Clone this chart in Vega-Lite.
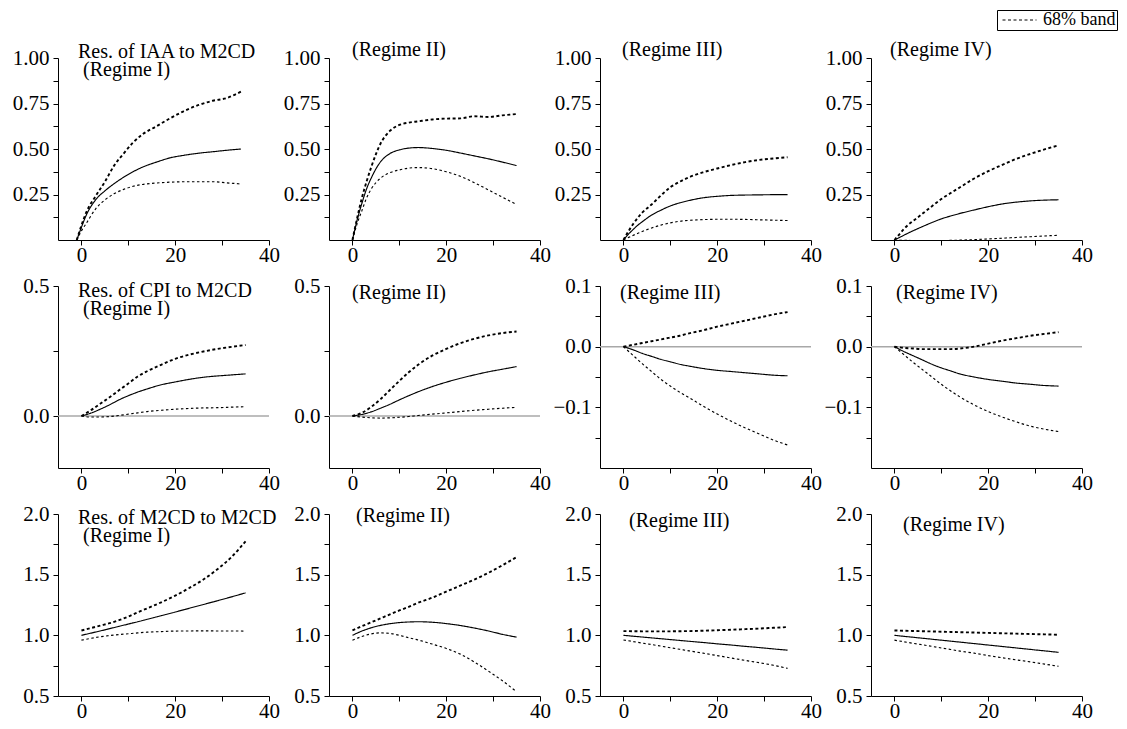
{
"$schema":"https://vega.github.io/schema/vega-lite/v6.json",
"background":"white",
"padding":{"left":12,"top":9,"right":5,"bottom":2},
"datasets":{"irf":[
{"p":1,"t":-1,"m":0,"u":0,"l":0},{"p":1,"t":0,"m":0.07,"u":0.08,"l":0.05},{"p":1,"t":1,"m":0.135,"u":0.15,"l":0.09},{"p":1,"t":3,"m":0.22,"u":0.24,"l":0.17},{"p":1,"t":5,"m":0.27,"u":0.32,"l":0.22},{"p":1,"t":7,"m":0.31,"u":0.41,"l":0.255},{"p":1,"t":9,"m":0.345,"u":0.475,"l":0.278},{"p":1,"t":11,"m":0.375,"u":0.535,"l":0.295},{"p":1,"t":13,"m":0.4,"u":0.58,"l":0.305},{"p":1,"t":16,"m":0.428,"u":0.625,"l":0.313},{"p":1,"t":19,"m":0.452,"u":0.67,"l":0.318},{"p":1,"t":22,"m":0.466,"u":0.71,"l":0.32},{"p":1,"t":25,"m":0.477,"u":0.742,"l":0.32},{"p":1,"t":28,"m":0.485,"u":0.765,"l":0.32},{"p":1,"t":31,"m":0.493,"u":0.78,"l":0.314},{"p":1,"t":34,"m":0.5,"u":0.815,"l":0.308},
{"p":2,"t":0,"m":0,"u":0,"l":0},{"p":2,"t":1,"m":0.11,"u":0.12,"l":0.09},{"p":2,"t":2,"m":0.2,"u":0.23,"l":0.16},{"p":2,"t":3,"m":0.28,"u":0.32,"l":0.23},{"p":2,"t":4,"m":0.34,"u":0.4,"l":0.28},{"p":2,"t":6,"m":0.43,"u":0.53,"l":0.34},{"p":2,"t":8,"m":0.475,"u":0.6,"l":0.37},{"p":2,"t":10,"m":0.495,"u":0.632,"l":0.385},{"p":2,"t":12,"m":0.505,"u":0.645,"l":0.395},{"p":2,"t":14,"m":0.508,"u":0.652,"l":0.398},{"p":2,"t":17,"m":0.503,"u":0.662,"l":0.392},{"p":2,"t":20,"m":0.493,"u":0.667,"l":0.375},{"p":2,"t":23,"m":0.478,"u":0.668,"l":0.35},{"p":2,"t":26,"m":0.462,"u":0.68,"l":0.315},{"p":2,"t":29,"m":0.446,"u":0.676,"l":0.275},{"p":2,"t":32,"m":0.428,"u":0.685,"l":0.235},{"p":2,"t":35,"m":0.409,"u":0.692,"l":0.195},
{"p":3,"t":0,"m":0,"u":0,"l":0},{"p":3,"t":1,"m":0.03,"u":0.045,"l":0.013},{"p":3,"t":2,"m":0.056,"u":0.085,"l":0.025},{"p":3,"t":3,"m":0.08,"u":0.12,"l":0.036},{"p":3,"t":4,"m":0.1,"u":0.15,"l":0.047},{"p":3,"t":6,"m":0.137,"u":0.195,"l":0.066},{"p":3,"t":8,"m":0.164,"u":0.245,"l":0.082},{"p":3,"t":10,"m":0.187,"u":0.29,"l":0.094},{"p":3,"t":12,"m":0.204,"u":0.32,"l":0.103},{"p":3,"t":14,"m":0.217,"u":0.345,"l":0.108},{"p":3,"t":17,"m":0.232,"u":0.372,"l":0.112},{"p":3,"t":20,"m":0.24,"u":0.393,"l":0.114},{"p":3,"t":23,"m":0.245,"u":0.412,"l":0.114},{"p":3,"t":26,"m":0.247,"u":0.428,"l":0.113},{"p":3,"t":29,"m":0.248,"u":0.44,"l":0.111},{"p":3,"t":32,"m":0.249,"u":0.448,"l":0.109},{"p":3,"t":35,"m":0.249,"u":0.455,"l":0.107},
{"p":4,"t":0,"m":0,"u":0,"l":0},{"p":4,"t":1,"m":0.013,"u":0.03,"l":-0.001},{"p":4,"t":2,"m":0.026,"u":0.06,"l":-0.002},{"p":4,"t":3,"m":0.039,"u":0.085,"l":-0.002},{"p":4,"t":4,"m":0.051,"u":0.105,"l":-0.003},{"p":4,"t":6,"m":0.074,"u":0.145,"l":-0.003},{"p":4,"t":8,"m":0.096,"u":0.186,"l":-0.003},{"p":4,"t":10,"m":0.116,"u":0.225,"l":-0.003},{"p":4,"t":12,"m":0.132,"u":0.258,"l":-0.002},{"p":4,"t":14,"m":0.146,"u":0.29,"l":-0.001},{"p":4,"t":17,"m":0.165,"u":0.338,"l":0.002},{"p":4,"t":20,"m":0.183,"u":0.378,"l":0.006},{"p":4,"t":23,"m":0.198,"u":0.413,"l":0.01},{"p":4,"t":26,"m":0.208,"u":0.446,"l":0.014},{"p":4,"t":29,"m":0.215,"u":0.473,"l":0.018},{"p":4,"t":32,"m":0.219,"u":0.498,"l":0.022},{"p":4,"t":35,"m":0.221,"u":0.52,"l":0.026},
{"p":5,"t":0,"m":0,"u":0,"l":0},{"p":5,"t":2,"m":0.011,"u":0.022,"l":-0.004},{"p":5,"t":4,"m":0.026,"u":0.047,"l":-0.004},{"p":5,"t":6,"m":0.043,"u":0.072,"l":-0.002},{"p":5,"t":8,"m":0.062,"u":0.099,"l":0.002},{"p":5,"t":10,"m":0.078,"u":0.125,"l":0.007},{"p":5,"t":12,"m":0.092,"u":0.152,"l":0.012},{"p":5,"t":14,"m":0.104,"u":0.172,"l":0.017},{"p":5,"t":17,"m":0.12,"u":0.197,"l":0.022},{"p":5,"t":20,"m":0.131,"u":0.22,"l":0.026},{"p":5,"t":23,"m":0.141,"u":0.236,"l":0.029},{"p":5,"t":26,"m":0.149,"u":0.248,"l":0.031},{"p":5,"t":29,"m":0.154,"u":0.258,"l":0.032},{"p":5,"t":32,"m":0.158,"u":0.266,"l":0.034},{"p":5,"t":35,"m":0.162,"u":0.273,"l":0.036},
{"p":6,"t":0,"m":0,"u":0,"l":0},{"p":6,"t":2,"m":0.006,"u":0.012,"l":-0.004},{"p":6,"t":4,"m":0.016,"u":0.035,"l":-0.007},{"p":6,"t":6,"m":0.03,"u":0.065,"l":-0.008},{"p":6,"t":8,"m":0.045,"u":0.1,"l":-0.007},{"p":6,"t":10,"m":0.062,"u":0.135,"l":-0.005},{"p":6,"t":12,"m":0.078,"u":0.168,"l":-0.002},{"p":6,"t":14,"m":0.093,"u":0.197,"l":0.002},{"p":6,"t":17,"m":0.113,"u":0.232,"l":0.007},{"p":6,"t":20,"m":0.13,"u":0.258,"l":0.012},{"p":6,"t":23,"m":0.145,"u":0.28,"l":0.017},{"p":6,"t":26,"m":0.158,"u":0.297,"l":0.022},{"p":6,"t":29,"m":0.17,"u":0.31,"l":0.026},{"p":6,"t":32,"m":0.18,"u":0.319,"l":0.03},{"p":6,"t":35,"m":0.19,"u":0.325,"l":0.033},
{"p":7,"t":0,"m":0,"u":0,"l":0},{"p":7,"t":2,"m":-0.005,"u":0.003,"l":-0.014},{"p":7,"t":4,"m":-0.011,"u":0.006,"l":-0.028},{"p":7,"t":6,"m":-0.016,"u":0.009,"l":-0.041},{"p":7,"t":8,"m":-0.021,"u":0.012,"l":-0.054},{"p":7,"t":10,"m":-0.025,"u":0.015,"l":-0.065},{"p":7,"t":12,"m":-0.029,"u":0.018,"l":-0.075},{"p":7,"t":14,"m":-0.032,"u":0.022,"l":-0.084},{"p":7,"t":17,"m":-0.036,"u":0.027,"l":-0.098},{"p":7,"t":20,"m":-0.039,"u":0.033,"l":-0.111},{"p":7,"t":23,"m":-0.041,"u":0.038,"l":-0.123},{"p":7,"t":26,"m":-0.043,"u":0.043,"l":-0.134},{"p":7,"t":29,"m":-0.045,"u":0.048,"l":-0.144},{"p":7,"t":32,"m":-0.047,"u":0.053,"l":-0.154},{"p":7,"t":35,"m":-0.048,"u":0.057,"l":-0.162},
{"p":8,"t":0,"m":0,"u":0,"l":0},{"p":8,"t":2,"m":-0.008,"u":-0.002,"l":-0.013},{"p":8,"t":4,"m":-0.015,"u":-0.003,"l":-0.026},{"p":8,"t":6,"m":-0.022,"u":-0.004,"l":-0.038},{"p":8,"t":8,"m":-0.029,"u":-0.004,"l":-0.05},{"p":8,"t":10,"m":-0.035,"u":-0.004,"l":-0.062},{"p":8,"t":12,"m":-0.04,"u":-0.004,"l":-0.073},{"p":8,"t":14,"m":-0.045,"u":-0.003,"l":-0.083},{"p":8,"t":17,"m":-0.05,"u":0,"l":-0.096},{"p":8,"t":20,"m":-0.054,"u":0.005,"l":-0.107},{"p":8,"t":23,"m":-0.057,"u":0.01,"l":-0.116},{"p":8,"t":26,"m":-0.06,"u":0.014,"l":-0.124},{"p":8,"t":29,"m":-0.062,"u":0.018,"l":-0.131},{"p":8,"t":32,"m":-0.064,"u":0.021,"l":-0.136},{"p":8,"t":35,"m":-0.065,"u":0.024,"l":-0.14},
{"p":9,"t":0,"m":1.0,"u":1.04,"l":0.96},{"p":9,"t":2,"m":1.018,"u":1.06,"l":0.975},{"p":9,"t":4,"m":1.036,"u":1.08,"l":0.988},{"p":9,"t":6,"m":1.055,"u":1.1,"l":0.998},{"p":9,"t":8,"m":1.074,"u":1.125,"l":1.006},{"p":9,"t":10,"m":1.093,"u":1.155,"l":1.013},{"p":9,"t":12,"m":1.112,"u":1.19,"l":1.02},{"p":9,"t":14,"m":1.132,"u":1.222,"l":1.026},{"p":9,"t":17,"m":1.162,"u":1.272,"l":1.031},{"p":9,"t":20,"m":1.192,"u":1.327,"l":1.035},{"p":9,"t":23,"m":1.223,"u":1.39,"l":1.036},{"p":9,"t":26,"m":1.254,"u":1.46,"l":1.037},{"p":9,"t":29,"m":1.285,"u":1.545,"l":1.036},{"p":9,"t":32,"m":1.317,"u":1.645,"l":1.036},{"p":9,"t":35,"m":1.35,"u":1.775,"l":1.035},
{"p":10,"t":0,"m":1.0,"u":1.04,"l":0.96},{"p":10,"t":2,"m":1.035,"u":1.075,"l":0.99},{"p":10,"t":4,"m":1.062,"u":1.107,"l":1.012},{"p":10,"t":6,"m":1.082,"u":1.14,"l":1.02},{"p":10,"t":8,"m":1.096,"u":1.173,"l":1.016},{"p":10,"t":10,"m":1.105,"u":1.205,"l":1.0},{"p":10,"t":12,"m":1.11,"u":1.235,"l":0.98},{"p":10,"t":14,"m":1.112,"u":1.268,"l":0.962},{"p":10,"t":17,"m":1.108,"u":1.31,"l":0.928},{"p":10,"t":20,"m":1.097,"u":1.36,"l":0.892},{"p":10,"t":23,"m":1.081,"u":1.41,"l":0.845},{"p":10,"t":26,"m":1.06,"u":1.46,"l":0.78},{"p":10,"t":29,"m":1.036,"u":1.515,"l":0.705},{"p":10,"t":32,"m":1.008,"u":1.578,"l":0.625},{"p":10,"t":35,"m":0.985,"u":1.645,"l":0.535},
{"p":11,"t":0,"m":1.0,"u":1.035,"l":0.962},{"p":11,"t":2,"m":0.993,"u":1.034,"l":0.949},{"p":11,"t":4,"m":0.986,"u":1.033,"l":0.936},{"p":11,"t":6,"m":0.979,"u":1.033,"l":0.924},{"p":11,"t":8,"m":0.972,"u":1.033,"l":0.911},{"p":11,"t":10,"m":0.965,"u":1.033,"l":0.898},{"p":11,"t":12,"m":0.958,"u":1.034,"l":0.885},{"p":11,"t":14,"m":0.951,"u":1.035,"l":0.872},{"p":11,"t":17,"m":0.941,"u":1.038,"l":0.853},{"p":11,"t":20,"m":0.93,"u":1.042,"l":0.833},{"p":11,"t":23,"m":0.92,"u":1.046,"l":0.813},{"p":11,"t":26,"m":0.909,"u":1.051,"l":0.793},{"p":11,"t":29,"m":0.899,"u":1.056,"l":0.774},{"p":11,"t":32,"m":0.888,"u":1.062,"l":0.753},{"p":11,"t":35,"m":0.878,"u":1.068,"l":0.728},
{"p":12,"t":0,"m":1.0,"u":1.04,"l":0.96},{"p":12,"t":2,"m":0.992,"u":1.038,"l":0.947},{"p":12,"t":4,"m":0.984,"u":1.036,"l":0.934},{"p":12,"t":6,"m":0.976,"u":1.034,"l":0.922},{"p":12,"t":8,"m":0.968,"u":1.032,"l":0.909},{"p":12,"t":10,"m":0.96,"u":1.03,"l":0.896},{"p":12,"t":12,"m":0.952,"u":1.028,"l":0.883},{"p":12,"t":14,"m":0.944,"u":1.026,"l":0.87},{"p":12,"t":17,"m":0.932,"u":1.023,"l":0.853},{"p":12,"t":20,"m":0.92,"u":1.02,"l":0.833},{"p":12,"t":23,"m":0.908,"u":1.017,"l":0.815},{"p":12,"t":26,"m":0.896,"u":1.014,"l":0.798},{"p":12,"t":29,"m":0.884,"u":1.011,"l":0.781},{"p":12,"t":32,"m":0.872,"u":1.008,"l":0.763},{"p":12,"t":35,"m":0.86,"u":1.005,"l":0.745}
]},
"data":{"name":"irf"},
"columns":4,
"spacing":{"row":46,"column":60},
"bounds":"flush",
"concat":[
{"width":211,"height":182,"title":{"text":["Res. of IAA to M2CD","\u200b\u00a0(Regime I)"],"dx":20,"offset":-33},"layer":[
 {"transform":[{"filter":"datum.p==1"},{"fold":["m","u","l"],"as":["s","v"]}],"mark":{"type":"line","color":"black","interpolate":"monotone"},"encoding":{
  "x":{"field":"t","type":"quantitative","scale":{"domain":[-5,40],"nice":false},"axis":{"title":null,"values":[0,10,20,30,40],"labelExpr":"datum.value % 20 === 0 ? datum.label : ''","encode":{"ticks":{"update":{"y2":{"signal":"datum.value % 20 === 0 ? -8 : -5"}}}}}},
  "y":{"field":"v","type":"quantitative","scale":{"domain":[0,1],"nice":false,"zero":false},"axis":{"title":null,"values":[0.125,0.25,0.375,0.5,0.625,0.75,0.875,1],"format":".2f","labelExpr":"abs(datum.value*4-round(datum.value*4))<1e-6 ? datum.label : ''","encode":{"ticks":{"update":{"x2":{"signal":"abs(datum.value*4-round(datum.value*4))<1e-6 ? 7 : 4.5"}}}}}},
  "strokeDash":{"field":"s","type":"nominal","scale":{"domain":["m","u","l"],"range":[[1,0],[3,2.5],[2.5,2.5]]},"legend":{"values":["u"],"labelExpr":"'68% band'","title":null}},
  "strokeWidth":{"condition":{"test":"datum.s==='u'","value":1.9},"value":1.15}}}
]},
{"width":211,"height":182,"title":{"text":"(Regime II)","dx":23,"offset":-13},"layer":[
 {"transform":[{"filter":"datum.p==2"},{"fold":["m","u","l"],"as":["s","v"]}],"mark":{"type":"line","color":"black","interpolate":"monotone"},"encoding":{
  "x":{"field":"t","type":"quantitative","scale":{"domain":[-5,40],"nice":false},"axis":{"title":null,"values":[0,10,20,30,40],"labelExpr":"datum.value % 20 === 0 ? datum.label : ''","encode":{"ticks":{"update":{"y2":{"signal":"datum.value % 20 === 0 ? -8 : -5"}}}}}},
  "y":{"field":"v","type":"quantitative","scale":{"domain":[0,1],"nice":false,"zero":false},"axis":{"title":null,"values":[0.125,0.25,0.375,0.5,0.625,0.75,0.875,1],"format":".2f","labelExpr":"abs(datum.value*4-round(datum.value*4))<1e-6 ? datum.label : ''","encode":{"ticks":{"update":{"x2":{"signal":"abs(datum.value*4-round(datum.value*4))<1e-6 ? 7 : 4.5"}}}}}},
  "strokeDash":{"field":"s","type":"nominal","scale":{"domain":["m","u","l"],"range":[[1,0],[3,2.5],[2.5,2.5]]},"legend":{"values":["u"],"labelExpr":"'68% band'","title":null}},
  "strokeWidth":{"condition":{"test":"datum.s==='u'","value":1.9},"value":1.15}}}
]},
{"width":211,"height":182,"title":{"text":"(Regime III)","dx":22,"offset":-13},"layer":[
 {"transform":[{"filter":"datum.p==3"},{"fold":["m","u","l"],"as":["s","v"]}],"mark":{"type":"line","color":"black","interpolate":"monotone"},"encoding":{
  "x":{"field":"t","type":"quantitative","scale":{"domain":[-5,40],"nice":false},"axis":{"title":null,"values":[0,10,20,30,40],"labelExpr":"datum.value % 20 === 0 ? datum.label : ''","encode":{"ticks":{"update":{"y2":{"signal":"datum.value % 20 === 0 ? -8 : -5"}}}}}},
  "y":{"field":"v","type":"quantitative","scale":{"domain":[0,1],"nice":false,"zero":false},"axis":{"title":null,"values":[0.125,0.25,0.375,0.5,0.625,0.75,0.875,1],"format":".2f","labelExpr":"abs(datum.value*4-round(datum.value*4))<1e-6 ? datum.label : ''","encode":{"ticks":{"update":{"x2":{"signal":"abs(datum.value*4-round(datum.value*4))<1e-6 ? 7 : 4.5"}}}}}},
  "strokeDash":{"field":"s","type":"nominal","scale":{"domain":["m","u","l"],"range":[[1,0],[3,2.5],[2.5,2.5]]},"legend":{"values":["u"],"labelExpr":"'68% band'","title":null}},
  "strokeWidth":{"condition":{"test":"datum.s==='u'","value":1.9},"value":1.15}}}
]},
{"width":211,"height":182,"title":{"text":"(Regime IV)","dx":19,"offset":-13},"layer":[
 {"transform":[{"filter":"datum.p==4"},{"fold":["m","u","l"],"as":["s","v"]}],"mark":{"type":"line","color":"black","interpolate":"monotone"},"encoding":{
  "x":{"field":"t","type":"quantitative","scale":{"domain":[-5,40],"nice":false},"axis":{"title":null,"values":[0,10,20,30,40],"labelExpr":"datum.value % 20 === 0 ? datum.label : ''","encode":{"ticks":{"update":{"y2":{"signal":"datum.value % 20 === 0 ? -8 : -5"}}}}}},
  "y":{"field":"v","type":"quantitative","scale":{"domain":[0,1],"nice":false,"zero":false},"axis":{"title":null,"values":[0.125,0.25,0.375,0.5,0.625,0.75,0.875,1],"format":".2f","labelExpr":"abs(datum.value*4-round(datum.value*4))<1e-6 ? datum.label : ''","encode":{"ticks":{"update":{"x2":{"signal":"abs(datum.value*4-round(datum.value*4))<1e-6 ? 7 : 4.5"}}}}}},
  "strokeDash":{"field":"s","type":"nominal","scale":{"domain":["m","u","l"],"range":[[1,0],[3,2.5],[2.5,2.5]]},"legend":{"values":["u"],"labelExpr":"'68% band'","title":null}},
  "strokeWidth":{"condition":{"test":"datum.s==='u'","value":1.9},"value":1.15}}}
]},
{"width":211,"height":182,"title":{"text":["Res. of CPI to M2CD","\u200b\u00a0(Regime I)"],"dx":20,"offset":-44},"layer":[
 {"data":{"values":[{}]},"mark":{"type":"rule","color":"#a8a8a8","strokeWidth":1.5},"encoding":{"y":{"datum":0,"type":"quantitative","scale":{"domain":[-0.2,0.5],"nice":false,"zero":false},"axis":{"title":null,"values":[0,0.25,0.5],"format":".1f","labelExpr":"abs(datum.value*2-round(datum.value*2))<1e-6 ? datum.label : ''","encode":{"ticks":{"update":{"x2":{"signal":"abs(datum.value*2-round(datum.value*2))<1e-6 ? 7 : 4.5"}}}}}}}},
 {"transform":[{"filter":"datum.p==5"},{"fold":["m","u","l"],"as":["s","v"]}],"mark":{"type":"line","color":"black","interpolate":"monotone"},"encoding":{
  "x":{"field":"t","type":"quantitative","scale":{"domain":[-5,40],"nice":false},"axis":{"title":null,"values":[0,10,20,30,40],"labelExpr":"datum.value % 20 === 0 ? datum.label : ''","encode":{"ticks":{"update":{"y2":{"signal":"datum.value % 20 === 0 ? -8 : -5"}}}}}},
  "y":{"field":"v","type":"quantitative","scale":{"domain":[-0.2,0.5],"nice":false,"zero":false},"axis":{"title":null,"values":[0,0.25,0.5],"format":".1f","labelExpr":"abs(datum.value*2-round(datum.value*2))<1e-6 ? datum.label : ''","encode":{"ticks":{"update":{"x2":{"signal":"abs(datum.value*2-round(datum.value*2))<1e-6 ? 7 : 4.5"}}}}}},
  "strokeDash":{"field":"s","type":"nominal","scale":{"domain":["m","u","l"],"range":[[1,0],[3,2.5],[2.5,2.5]]},"legend":{"values":["u"],"labelExpr":"'68% band'","title":null}},
  "strokeWidth":{"condition":{"test":"datum.s==='u'","value":1.9},"value":1.15}}}
]},
{"width":211,"height":182,"title":{"text":"(Regime II)","dx":23,"offset":-28},"layer":[
 {"data":{"values":[{}]},"mark":{"type":"rule","color":"#a8a8a8","strokeWidth":1.5},"encoding":{"y":{"datum":0,"type":"quantitative","scale":{"domain":[-0.2,0.5],"nice":false,"zero":false},"axis":{"title":null,"values":[0,0.25,0.5],"format":".1f","labelExpr":"abs(datum.value*2-round(datum.value*2))<1e-6 ? datum.label : ''","encode":{"ticks":{"update":{"x2":{"signal":"abs(datum.value*2-round(datum.value*2))<1e-6 ? 7 : 4.5"}}}}}}}},
 {"transform":[{"filter":"datum.p==6"},{"fold":["m","u","l"],"as":["s","v"]}],"mark":{"type":"line","color":"black","interpolate":"monotone"},"encoding":{
  "x":{"field":"t","type":"quantitative","scale":{"domain":[-5,40],"nice":false},"axis":{"title":null,"values":[0,10,20,30,40],"labelExpr":"datum.value % 20 === 0 ? datum.label : ''","encode":{"ticks":{"update":{"y2":{"signal":"datum.value % 20 === 0 ? -8 : -5"}}}}}},
  "y":{"field":"v","type":"quantitative","scale":{"domain":[-0.2,0.5],"nice":false,"zero":false},"axis":{"title":null,"values":[0,0.25,0.5],"format":".1f","labelExpr":"abs(datum.value*2-round(datum.value*2))<1e-6 ? datum.label : ''","encode":{"ticks":{"update":{"x2":{"signal":"abs(datum.value*2-round(datum.value*2))<1e-6 ? 7 : 4.5"}}}}}},
  "strokeDash":{"field":"s","type":"nominal","scale":{"domain":["m","u","l"],"range":[[1,0],[3,2.5],[2.5,2.5]]},"legend":{"values":["u"],"labelExpr":"'68% band'","title":null}},
  "strokeWidth":{"condition":{"test":"datum.s==='u'","value":1.9},"value":1.15}}}
]},
{"width":211,"height":182,"title":{"text":"(Regime III)","dx":20,"offset":-28},"layer":[
 {"data":{"values":[{}]},"mark":{"type":"rule","color":"#a8a8a8","strokeWidth":1.5},"encoding":{"y":{"datum":0,"type":"quantitative","scale":{"domain":[-0.2,0.1],"nice":false,"zero":false},"axis":{"title":null,"values":[-0.15,-0.1,-0.05,0,0.05,0.1],"format":".1f","labelExpr":"abs(datum.value*10-round(datum.value*10))<1e-6 ? datum.label : ''","encode":{"ticks":{"update":{"x2":{"signal":"abs(datum.value*10-round(datum.value*10))<1e-6 ? 7 : 4.5"}}}}}}}},
 {"transform":[{"filter":"datum.p==7"},{"fold":["m","u","l"],"as":["s","v"]}],"mark":{"type":"line","color":"black","interpolate":"monotone"},"encoding":{
  "x":{"field":"t","type":"quantitative","scale":{"domain":[-5,40],"nice":false},"axis":{"title":null,"values":[0,10,20,30,40],"labelExpr":"datum.value % 20 === 0 ? datum.label : ''","encode":{"ticks":{"update":{"y2":{"signal":"datum.value % 20 === 0 ? -8 : -5"}}}}}},
  "y":{"field":"v","type":"quantitative","scale":{"domain":[-0.2,0.1],"nice":false,"zero":false},"axis":{"title":null,"values":[-0.15,-0.1,-0.05,0,0.05,0.1],"format":".1f","labelExpr":"abs(datum.value*10-round(datum.value*10))<1e-6 ? datum.label : ''","encode":{"ticks":{"update":{"x2":{"signal":"abs(datum.value*10-round(datum.value*10))<1e-6 ? 7 : 4.5"}}}}}},
  "strokeDash":{"field":"s","type":"nominal","scale":{"domain":["m","u","l"],"range":[[1,0],[3,2.5],[2.5,2.5]]},"legend":{"values":["u"],"labelExpr":"'68% band'","title":null}},
  "strokeWidth":{"condition":{"test":"datum.s==='u'","value":1.9},"value":1.15}}}
]},
{"width":211,"height":182,"title":{"text":"(Regime IV)","dx":25,"offset":-28},"layer":[
 {"data":{"values":[{}]},"mark":{"type":"rule","color":"#a8a8a8","strokeWidth":1.5},"encoding":{"y":{"datum":0,"type":"quantitative","scale":{"domain":[-0.2,0.1],"nice":false,"zero":false},"axis":{"title":null,"values":[-0.15,-0.1,-0.05,0,0.05,0.1],"format":".1f","labelExpr":"abs(datum.value*10-round(datum.value*10))<1e-6 ? datum.label : ''","encode":{"ticks":{"update":{"x2":{"signal":"abs(datum.value*10-round(datum.value*10))<1e-6 ? 7 : 4.5"}}}}}}}},
 {"transform":[{"filter":"datum.p==8"},{"fold":["m","u","l"],"as":["s","v"]}],"mark":{"type":"line","color":"black","interpolate":"monotone"},"encoding":{
  "x":{"field":"t","type":"quantitative","scale":{"domain":[-5,40],"nice":false},"axis":{"title":null,"values":[0,10,20,30,40],"labelExpr":"datum.value % 20 === 0 ? datum.label : ''","encode":{"ticks":{"update":{"y2":{"signal":"datum.value % 20 === 0 ? -8 : -5"}}}}}},
  "y":{"field":"v","type":"quantitative","scale":{"domain":[-0.2,0.1],"nice":false,"zero":false},"axis":{"title":null,"values":[-0.15,-0.1,-0.05,0,0.05,0.1],"format":".1f","labelExpr":"abs(datum.value*10-round(datum.value*10))<1e-6 ? datum.label : ''","encode":{"ticks":{"update":{"x2":{"signal":"abs(datum.value*10-round(datum.value*10))<1e-6 ? 7 : 4.5"}}}}}},
  "strokeDash":{"field":"s","type":"nominal","scale":{"domain":["m","u","l"],"range":[[1,0],[3,2.5],[2.5,2.5]]},"legend":{"values":["u"],"labelExpr":"'68% band'","title":null}},
  "strokeWidth":{"condition":{"test":"datum.s==='u'","value":1.9},"value":1.15}}}
]},
{"width":211,"height":182,"title":{"text":["Res. of M2CD to M2CD","\u200b\u00a0(Regime I)"],"dx":20,"offset":-43},"layer":[
 {"transform":[{"filter":"datum.p==9"},{"fold":["m","u","l"],"as":["s","v"]}],"mark":{"type":"line","color":"black","interpolate":"monotone"},"encoding":{
  "x":{"field":"t","type":"quantitative","scale":{"domain":[-5,40],"nice":false},"axis":{"title":null,"values":[0,10,20,30,40],"labelExpr":"datum.value % 20 === 0 ? datum.label : ''","encode":{"ticks":{"update":{"y2":{"signal":"datum.value % 20 === 0 ? -8 : -5"}}}}}},
  "y":{"field":"v","type":"quantitative","scale":{"domain":[0.5,2],"nice":false,"zero":false},"axis":{"title":null,"values":[0.5,0.75,1,1.25,1.5,1.75,2],"format":".1f","labelExpr":"abs(datum.value*2-round(datum.value*2))<1e-6 ? datum.label : ''","encode":{"ticks":{"update":{"x2":{"signal":"abs(datum.value*2-round(datum.value*2))<1e-6 ? 7 : 4.5"}}}}}},
  "strokeDash":{"field":"s","type":"nominal","scale":{"domain":["m","u","l"],"range":[[1,0],[3,2.5],[2.5,2.5]]},"legend":{"values":["u"],"labelExpr":"'68% band'","title":null}},
  "strokeWidth":{"condition":{"test":"datum.s==='u'","value":1.9},"value":1.15}}}
]},
{"width":211,"height":182,"title":{"text":"(Regime II)","dx":27,"offset":-23},"layer":[
 {"transform":[{"filter":"datum.p==10"},{"fold":["m","u","l"],"as":["s","v"]}],"mark":{"type":"line","color":"black","interpolate":"monotone"},"encoding":{
  "x":{"field":"t","type":"quantitative","scale":{"domain":[-5,40],"nice":false},"axis":{"title":null,"values":[0,10,20,30,40],"labelExpr":"datum.value % 20 === 0 ? datum.label : ''","encode":{"ticks":{"update":{"y2":{"signal":"datum.value % 20 === 0 ? -8 : -5"}}}}}},
  "y":{"field":"v","type":"quantitative","scale":{"domain":[0.5,2],"nice":false,"zero":false},"axis":{"title":null,"values":[0.5,0.75,1,1.25,1.5,1.75,2],"format":".1f","labelExpr":"abs(datum.value*2-round(datum.value*2))<1e-6 ? datum.label : ''","encode":{"ticks":{"update":{"x2":{"signal":"abs(datum.value*2-round(datum.value*2))<1e-6 ? 7 : 4.5"}}}}}},
  "strokeDash":{"field":"s","type":"nominal","scale":{"domain":["m","u","l"],"range":[[1,0],[3,2.5],[2.5,2.5]]},"legend":{"values":["u"],"labelExpr":"'68% band'","title":null}},
  "strokeWidth":{"condition":{"test":"datum.s==='u'","value":1.9},"value":1.15}}}
]},
{"width":211,"height":182,"title":{"text":"(Regime III)","dx":29,"offset":-28},"layer":[
 {"transform":[{"filter":"datum.p==11"},{"fold":["m","u","l"],"as":["s","v"]}],"mark":{"type":"line","color":"black","interpolate":"monotone"},"encoding":{
  "x":{"field":"t","type":"quantitative","scale":{"domain":[-5,40],"nice":false},"axis":{"title":null,"values":[0,10,20,30,40],"labelExpr":"datum.value % 20 === 0 ? datum.label : ''","encode":{"ticks":{"update":{"y2":{"signal":"datum.value % 20 === 0 ? -8 : -5"}}}}}},
  "y":{"field":"v","type":"quantitative","scale":{"domain":[0.5,2],"nice":false,"zero":false},"axis":{"title":null,"values":[0.5,0.75,1,1.25,1.5,1.75,2],"format":".1f","labelExpr":"abs(datum.value*2-round(datum.value*2))<1e-6 ? datum.label : ''","encode":{"ticks":{"update":{"x2":{"signal":"abs(datum.value*2-round(datum.value*2))<1e-6 ? 7 : 4.5"}}}}}},
  "strokeDash":{"field":"s","type":"nominal","scale":{"domain":["m","u","l"],"range":[[1,0],[3,2.5],[2.5,2.5]]},"legend":{"values":["u"],"labelExpr":"'68% band'","title":null}},
  "strokeWidth":{"condition":{"test":"datum.s==='u'","value":1.9},"value":1.15}}}
]},
{"width":211,"height":182,"title":{"text":"(Regime IV)","dx":32,"offset":-32},"layer":[
 {"transform":[{"filter":"datum.p==12"},{"fold":["m","u","l"],"as":["s","v"]}],"mark":{"type":"line","color":"black","interpolate":"monotone"},"encoding":{
  "x":{"field":"t","type":"quantitative","scale":{"domain":[-5,40],"nice":false},"axis":{"title":null,"values":[0,10,20,30,40],"labelExpr":"datum.value % 20 === 0 ? datum.label : ''","encode":{"ticks":{"update":{"y2":{"signal":"datum.value % 20 === 0 ? -8 : -5"}}}}}},
  "y":{"field":"v","type":"quantitative","scale":{"domain":[0.5,2],"nice":false,"zero":false},"axis":{"title":null,"values":[0.5,0.75,1,1.25,1.5,1.75,2],"format":".1f","labelExpr":"abs(datum.value*2-round(datum.value*2))<1e-6 ? datum.label : ''","encode":{"ticks":{"update":{"x2":{"signal":"abs(datum.value*2-round(datum.value*2))<1e-6 ? 7 : 4.5"}}}}}},
  "strokeDash":{"field":"s","type":"nominal","scale":{"domain":["m","u","l"],"range":[[1,0],[3,2.5],[2.5,2.5]]},"legend":{"values":["u"],"labelExpr":"'68% band'","title":null}},
  "strokeWidth":{"condition":{"test":"datum.s==='u'","value":1.9},"value":1.15}}}
]}
],
"config":{
 "view":{"stroke":null},
 "font":"Liberation Serif",
 "axis":{"labelFont":"Liberation Serif","labelFontSize":21,"labelColor":"black","domainColor":"black","tickColor":"black","domainWidth":1,"tickWidth":1,"tickSize":5,"labelPadding":4,"grid":false,"labelFlush":false,"labelOverlap":false},
 "axisX":{"labelPadding":-1},
 "legend":{"orient":"none","legendX":939,"legendY":-48,"symbolType":"M-1,0H3","symbolSize":289,"symbolOffset":4,"symbolStrokeWidth":1,"symbolStrokeColor":"black","symbolFillColor":"transparent","labelFont":"Liberation Serif","labelFontSize":18,"labelColor":"black","strokeColor":"black","padding":1,"labelOffset":23},
 "title":{"font":"Liberation Serif","fontSize":20,"fontWeight":"normal","color":"black","anchor":"start","frame":"group","lineHeight":18}
}
}
